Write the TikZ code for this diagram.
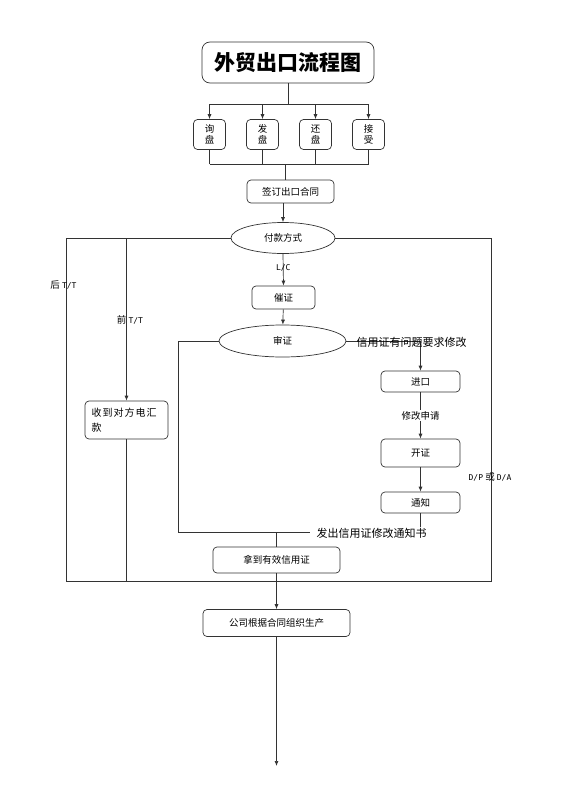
\documentclass[tikz,border=0pt]{standalone}
\usepackage{fontspec}
\setmainfont{Noto Sans CJK SC}
\setmonofont{DejaVu Sans Mono}
\newfontfamily\spacedcjk[LetterSpace=10]{Noto Sans CJK SC}
\usetikzlibrary{shapes.geometric,arrows.meta}

\begin{document}
\begin{tikzpicture}[
    x=1pt, y=-1pt,
    font=\fontsize{9.5}{12}\selectfont,
    % Node styles:
    block/.style={rectangle, draw=black!80, line width=0.7pt, rounded corners=4pt,
                  align=center, inner sep=0pt},
    smallbox/.style={block, minimum width=32pt, minimum height=30pt,
                     font=\fontsize{9.5}{11}\selectfont},
    decision/.style={ellipse, draw=black!80, line width=0.7pt, inner sep=0pt},
    tag/.style={inner sep=1pt},
    bigtag/.style={inner sep=1pt, font=\fontsize{11}{13}\selectfont},
    % Arrow styles:
    line/.style={draw=black!80, line width=0.7pt},
    arrow/.style={line, -{Latex[length=5pt,width=4pt]}},
]
\useasboundingbox (0,0) rectangle (560,792);

% --- NODES ---
\node[block, rounded corners=8pt, minimum width=172pt, minimum height=41pt,
      font=\fontsize{21}{24}\selectfont\bfseries] (title) at (288,62.5) {外贸出口流程图};
\foreach \name/\charA/\charB/\xx in {inquiry/询/盘/209.5, offer/发/盘/262.5,
                                    counter/还/盘/315.5, accept/接/受/368.5}
  \node[smallbox] (\name) at (\xx,134.5) {\charA\\\charB};
\node[block, minimum width=87pt, minimum height=23pt] (contract) at (290.5,191.5) {签订出口合同};
\node[decision, minimum width=104pt, minimum height=31pt] (payment) at (283,238) {付款方式};
\node[block, minimum width=63pt, minimum height=23pt] (urge) at (283.5,297.5) {催证};
\node[decision, minimum width=127pt, minimum height=32pt] (check) at (282.5,341) {审证};
\node[block, minimum width=79pt, minimum height=21pt] (import) at (420.5,381.5) {进口};
\node[block, minimum width=79pt, minimum height=28pt] (open) at (420.5,453) {开证};
\node[block, minimum width=79pt, minimum height=21pt] (notify) at (420.5,502.5) {通知};
\node[block, text width=70pt, inner xsep=6.5pt, minimum height=38pt, align=left,
      font=\fontsize{10}{15}\selectfont\spacedcjk] (remit) at (126.5,420) {收到对方电汇\\款};
\node[block, minimum width=127pt, minimum height=26pt] (valid) at (276.5,560) {拿到有效信用证};
\node[block, minimum width=147pt, minimum height=27pt] (produce) at (276.5,623) {公司根据合同组织生产};

% helper points
\coordinate (split)     at (288,104);
\coordinate (merge)     at (285,164);
\coordinate (frameNW)   at (66,238);
\coordinate (frameSE)   at (491,581);
\coordinate (amendturn) at (420.5,341);
\coordinate (notifyend) at (420.5,527);
\coordinate (loopSW)    at (178,532.5);
\coordinate (loopend)   at (310,532.5);
\coordinate (finish)    at (276.5,766);

% --- ARROWS ---
% Title to the four steps and back together
\draw[line] (title.south) -- (split);
\draw[line] (inquiry |- split) -- (accept |- split);
\foreach \name in {inquiry,offer,counter,accept}
  \draw[arrow] (\name |- split) -- (\name.north);
\foreach \name in {inquiry,offer,counter,accept}
  \draw[line] (\name.south) -- (\name |- merge);
\draw[line] (inquiry |- merge) -- (accept |- merge);
\draw[line] (merge) -- (merge |- contract.north);
\draw[arrow] (contract.south -| payment) -- (payment.north);

% Outer frame: T/T and D/P routes
\draw[line] (payment.west) -- (frameNW) |- (frameSE) -- (frameSE |- payment) -- (payment.east);
\draw[arrow] (remit |- payment) -- (remit.north);
\draw[line] (remit.south) -- (remit |- frameSE);
\node[tag] (lateTT) at (63.5,285) {后 \texttt{\fontsize{8}{10}\selectfont T/T}};
\node[tag] (earlyTT) at (130,320) {前 \texttt{\fontsize{8}{10}\selectfont T/T}};
\node[tag] (dpda) at (490,477) {\texttt{\fontsize{8}{10}\selectfont D/P} 或 \texttt{\fontsize{8}{10}\selectfont D/A}};

% L/C route
\draw[arrow] (payment.south) -- node[tag, pos=0.45]{\texttt{\fontsize{8}{10}\selectfont L/C}} (urge.north);
\draw[arrow] (urge) -- (check);
\draw[arrow] (check.east) -- (amendturn) -- (import.north);
\node[bigtag] (problem) at (411.5,342) {信用证有问题要求修改};
\draw[arrow] (import) -- node[tag, fill=white]{修改申请} (open);
\draw[arrow] (open) -- (notify);
\draw[line] (notify.south) -- (notifyend);

% Amendment notice back to valid L/C
\draw[line] (check.west) -- (loopSW |- check) -- (loopSW) -- (loopend);
\node[bigtag] (notice) at (371.5,533) {发出信用证修改通知书};
\draw[line] (valid |- loopSW) -- (valid.north);
\draw[arrow] (valid) -- (produce);
\draw[arrow] (produce) -- (finish);

\end{tikzpicture}
\end{document}
